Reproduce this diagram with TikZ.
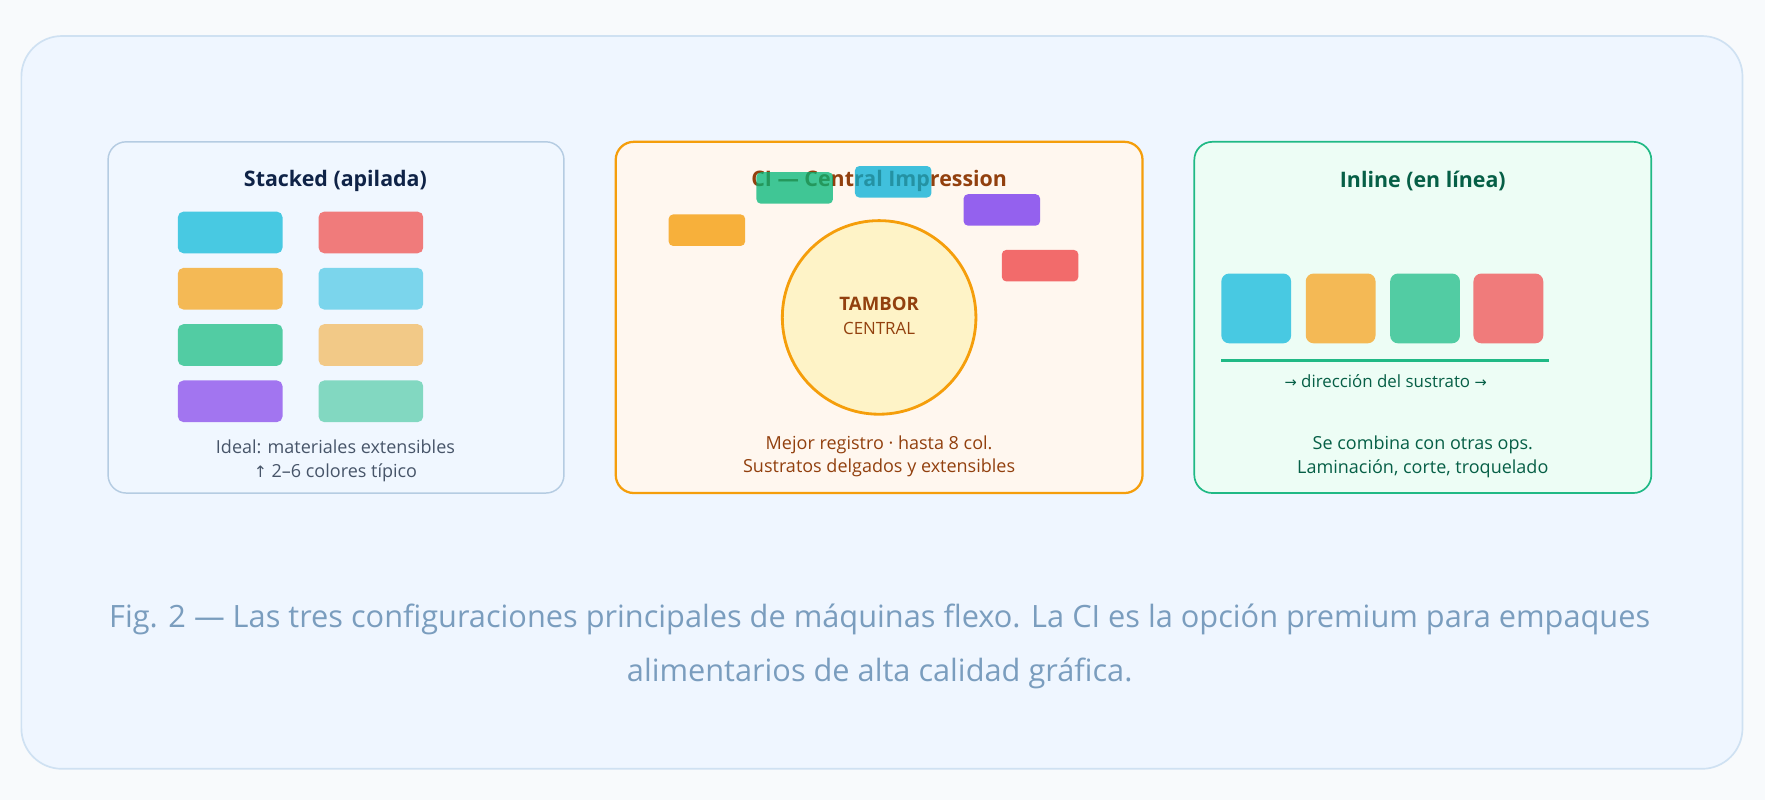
\documentclass[tikz,border=0pt]{standalone}
\usepackage{fontspec}
\setmainfont{Open Sans}
\definecolor{pagebg}{HTML}{F8FAFC}
\definecolor{panelfill}{HTML}{EFF6FF}
\definecolor{paneldraw}{HTML}{CFE1F2}
\definecolor{boxAfill}{HTML}{F0F7FF}
\definecolor{boxAdraw}{HTML}{B5CCE2}
\definecolor{boxBfill}{HTML}{FFF7EF}
\definecolor{boxBdraw}{HTML}{F59E0B}
\definecolor{boxCfill}{HTML}{EDFDF5}
\definecolor{boxCdraw}{HTML}{20B985}
\definecolor{ttlA}{HTML}{0F2347}
\definecolor{ttlB}{HTML}{92400E}
\definecolor{ttlC}{HTML}{065F46}
\definecolor{greytxt}{HTML}{475569}
\definecolor{captxt}{HTML}{7A9DBE}
\definecolor{cCyan}{HTML}{48C9E2}
\definecolor{cRed}{HTML}{F07B7B}
\definecolor{cOrange}{HTML}{F4B955}
\definecolor{cLCyan}{HTML}{7BD5EC}
\definecolor{cGreen}{HTML}{52CCA3}
\definecolor{cLOrange}{HTML}{F2C987}
\definecolor{cPurple}{HTML}{A275F0}
\definecolor{cTeal}{HTML}{82D8C1}
\definecolor{dGreen}{HTML}{00B677}
\definecolor{dCyan}{HTML}{00AED6}
\definecolor{dPurple}{HTML}{9461EE}
\definecolor{dOrange}{HTML}{F7B03B}
\definecolor{dRed}{HTML}{F26B6B}
\definecolor{drumfill}{HTML}{FEF3C7}
\begin{document}
\begin{tikzpicture}[x=1pt,y=-1pt,
  panel/.style={draw=paneldraw,fill=panelfill,line width=1.5pt,rounded corners=36pt,inner sep=0pt,minimum width=1529pt,minimum height=651pt},
  cardA/.style={draw=boxAdraw,fill=boxAfill,line width=1.3pt,rounded corners=16pt,inner sep=0pt,minimum width=405pt,minimum height=312pt},
  cardB/.style={draw=boxBdraw,fill=boxBfill,line width=2pt,rounded corners=16pt,inner sep=0pt,minimum width=468pt,minimum height=312pt},
  cardC/.style={draw=boxCdraw,fill=boxCfill,line width=1.5pt,rounded corners=16pt,inner sep=0pt,minimum width=406pt,minimum height=312pt},
  unitbar/.style={rounded corners=5pt,inner sep=0pt,minimum width=93pt,minimum height=37pt},
  cibar/.style={rounded corners=4pt,inner sep=0pt,minimum width=68pt,minimum height=28pt},
  seethru/.style={fill opacity=0.75},
  sqbox/.style={rounded corners=7pt,inner sep=0pt,minimum width=62pt,minimum height=62pt},
  ttl/.style={font=\bfseries\fontsize{19}{23}\selectfont,inner sep=0pt},
  body/.style={font=\fontsize{16}{19}\selectfont,inner sep=0pt},
  captiontext/.style={font=\fontsize{27.3}{32}\selectfont,text=captxt,inner sep=0pt}
]
\useasboundingbox (0,0) rectangle (1568,711);
\fill[pagebg] (0,0) rectangle (1568,711);
\node[panel] (panel) at (783.5,357.5) {};

% ---- Stacked
\node[cardA] (cardA) at (298.5,282) {};
\node[ttl,text=ttlA] (tA) at (298,161) {Stacked (apilada)};
\node[unitbar,fill=cCyan] (a1) at (204.5,206.5) {};
\node[unitbar,fill=cOrange] (a2) at (204.5,256.5) {};
\node[unitbar,fill=cGreen] (a3) at (204.5,306.5) {};
\node[unitbar,fill=cPurple] (a4) at (204.5,356.5) {};
\node[unitbar,fill=cRed] (b1) at (329.5,206.5) {};
\node[unitbar,fill=cLCyan] (b2) at (329.5,256.5) {};
\node[unitbar,fill=cLOrange] (b3) at (329.5,306.5) {};
\node[unitbar,fill=cTeal] (b4) at (329.5,356.5) {};
\node[body,text=greytxt] (sA1) at (298,397) {Ideal: materiales extensibles};
\node[body,text=greytxt] (sA2) at (298,420) {{\fontspec{DejaVu Sans}\fontsize{14}{17}\selectfont↑} 2–6 colores típico};

% ---- CI
\node[cardB] (cardB) at (781,282) {};
\node[ttl,text=ttlB] (tB) at (781,161) {CI — Central Impression};
\node[circle,draw=boxBdraw,fill=drumfill,line width=2.5pt,minimum size=172pt,inner sep=0pt] (drum) at (781,282) {};
\node[font=\bfseries\fontsize{16.5}{20}\selectfont,text=ttlB,inner sep=0pt] (drumA) at (781,270) {TAMBOR};
\node[font=\fontsize{15}{18}\selectfont,text=ttlB,inner sep=0pt] (drumB) at (781,292) {CENTRAL};
\node[cibar,seethru,fill=dGreen] (u1) at (706,167) {};
\node[cibar,seethru,fill=dCyan] (u2) at (793.5,161.5) {};
\node[cibar,fill=dPurple] (u3) at (890,186.5) {};
\node[cibar,fill=dOrange] (u4) at (628,204.5) {};
\node[cibar,fill=dRed] (u5) at (924,236) {};
\node[body,text=ttlB] (sB1) at (781,395) {Mejor registro · hasta 8 col.};
\node[body,text=ttlB] (sB2) at (781,416) {Sustratos delgados y extensibles};

% ---- Inline
\node[cardC] (cardC) at (1264,282) {};
\node[ttl,text=ttlC] (tC) at (1264,161) {Inline (en línea)};
\node[sqbox,fill=cCyan] (q1) at (1116,274) {};
\node[sqbox,fill=cOrange] (q2) at (1191,274) {};
\node[sqbox,fill=cGreen] (q3) at (1266,274) {};
\node[sqbox,fill=cRed] (q4) at (1340,274) {};
\coordinate (w1) at (1085,320);
\coordinate (w2) at (1376,320);
\draw[draw=boxCdraw,line width=2.5pt] (w1) -- (w2);
\node[font=\fontsize{15}{18}\selectfont,text=ttlC,inner sep=0pt] (dir) at (1231,339) {{\fontspec{DejaVu Sans}\fontsize{13}{16}\selectfont→} dirección del sustrato {\fontspec{DejaVu Sans}\fontsize{13}{16}\selectfont→}};
\node[body,text=ttlC] (sC1) at (1264,395) {Se combina con otras ops.};
\node[body,text=ttlC] (sC2) at (1264,416) {Laminación, corte, troquelado};

% ---- caption
\node[captiontext] (cap1) at (781.5,550) {Fig. 2 — Las tres configuraciones principales de máquinas flexo. La CI es la opción premium para empaques};
\node[captiontext] (cap2) at (781.5,598) {alimentarios de alta calidad gráfica.};
\end{tikzpicture}
\end{document}
